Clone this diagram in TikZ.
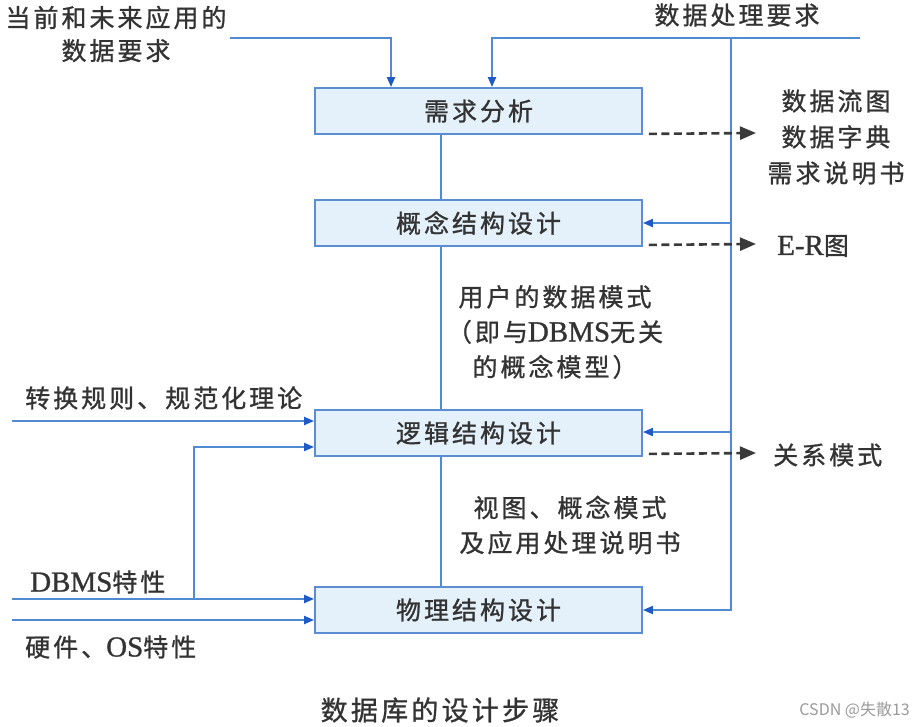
\documentclass[tikz,border=0pt]{standalone}
\usepackage{fontspec}
\setmainfont{Liberation Serif}
\newfontfamily\cjk[LetterSpace=12,FakeBold=1]{Noto Sans CJK SC}
\newfontfamily\wmfont{Noto Sans CJK SC}
\newfontfamily\latf[FakeBold=1]{Liberation Serif}
\usetikzlibrary{arrows.meta}
\definecolor{boxfill}{HTML}{E4F0FA}
\definecolor{boxline}{HTML}{5B8ED0}
\definecolor{flowc}{HTML}{4F8AD2}
\definecolor{tipc}{HTML}{1E5BC6}
\definecolor{dashc}{HTML}{3A3A3A}
\definecolor{txt}{HTML}{333333}
\definecolor{wmc}{HTML}{9A9A9A}
\newcommand\lat[1]{{\latf\fontsize{29}{35}\selectfont #1}}
\begin{document}
\begin{tikzpicture}[x=1pt,y=-1pt,
  every node/.style={inner sep=0pt, text=txt},
  stepbox/.style={draw=boxline, fill=boxfill, line width=1.8pt, minimum width=327pt, minimum height=46pt, font=\cjk\fontsize{25}{30}\selectfont},
  lbl/.style={font=\cjk\fontsize{25}{35}\selectfont, align=center},
  flow/.style={draw=flowc, line width=2pt},
  flowarr/.style={flow, -{Triangle[length=10pt,width=8pt,color=tipc]}},
  outarr/.style={draw=dashc, line width=2.6pt, dash pattern=on 8pt off 4.5pt, -{Triangle[length=16pt,width=13pt]}}
]
\useasboundingbox (0,0) rectangle (912,726);

% boxes
\node[stepbox] (b1) at (478.5,111) {需求分析};
\node[stepbox] (b2) at (478.5,223) {概念结构设计};
\node[stepbox] (b3) at (478.5,433) {逻辑结构设计};
\node[stepbox] (b4) at (478.5,610) {物理结构设计};

% centre links
\draw[flow] ([xshift=-37.5pt]b1.south) -- ([xshift=-37.5pt]b2.north);
\draw[flow] ([xshift=-37.5pt]b2.south) -- ([xshift=-37.5pt]b3.north);
\draw[flow] ([xshift=-37.5pt]b3.south) -- ([xshift=-37.5pt]b4.north);

% top-left input
\node[lbl, font=\cjk\fontsize{25}{33}\selectfont] (req) at (116,34) {当前和未来应用的\\数据要求};
\coordinate (reqend) at (230,38);
\draw[flowarr] (reqend) -| ([xshift=-87.5pt]b1.north);

% data processing requirement
\node[lbl] (dp) at (737,15) {数据处理要求};
\coordinate (dpR) at (860,38);
\coordinate (vtop) at (731,38);
\draw[flowarr] (dpR) -| ([xshift=13.5pt]b1.north);
\draw[flowarr] (vtop) |- (b4.east);
\draw[flowarr] (b2.east -| vtop) -- (b2.east);
\draw[flowarr] ([yshift=1pt]b3.east -| vtop) -- ([yshift=1pt]b3.east);

% outputs
\node[lbl, font=\cjk\fontsize{25}{36}\selectfont] (o1) at (836,137) {数据流图\\数据字典\\需求说明书};
\node[lbl, anchor=west] (o2) at (777,246) {\lat{E-R}图};
\node[lbl, anchor=west] (o3) at (773,455) {关系模式};
\coordinate (d1s) at ([xshift=6pt,yshift=1pt]b1.south east);
\coordinate (d1e) at (756,133);
\coordinate (d2s) at ([xshift=6pt,yshift=2pt]b2.south east);
\coordinate (d2e) at (756,244);
\coordinate (d3s) at ([xshift=6pt,yshift=3pt]b3.south east);
\coordinate (d3e) at (756,453);
\draw[outarr] (d1s) -- (d1e);
\draw[outarr] (d2s) -- (d2e);
\draw[outarr] (d3s) -- (d3e);

% middle labels
\node[lbl] (m1) at (555,332) {用户的数据模式\\（即与\lat{DBMS}无关\\的概念模型）};
\node[lbl] (m2) at (570,525) {视图、概念模式\\及应用处理说明书};

% left inputs
\node[lbl, anchor=west] (l1) at (25,398) {转换规则、规范化理论};
\node[lbl, anchor=west] (l2) at (30,582) {\lat{DBMS}特性};
\node[lbl, anchor=west] (l3) at (25,647) {硬件、\lat{OS}特性};
\coordinate (l1s) at (12,421);
\coordinate (dbs) at (12,599);
\coordinate (dbj) at (194,599);
\coordinate (hws) at (12,620);
\draw[flowarr] (l1s) -- (l1s -| b3.west);
\draw[flowarr] (dbj) |- ([yshift=-14pt]b3.west);
\draw[flowarr] (dbs) -- (dbs -| b4.west);
\draw[flowarr] (hws) -- (hws -| b4.west);

% caption and watermark
\node[lbl, font=\cjk\fontsize{27}{30}\selectfont] (cap) at (440,710) {数据库的设计步骤};
\node[font=\wmfont\fontsize{16}{18}\selectfont, text=wmc, anchor=east] (wm) at (910,710) {CSDN @失散13};
\end{tikzpicture}
\end{document}
